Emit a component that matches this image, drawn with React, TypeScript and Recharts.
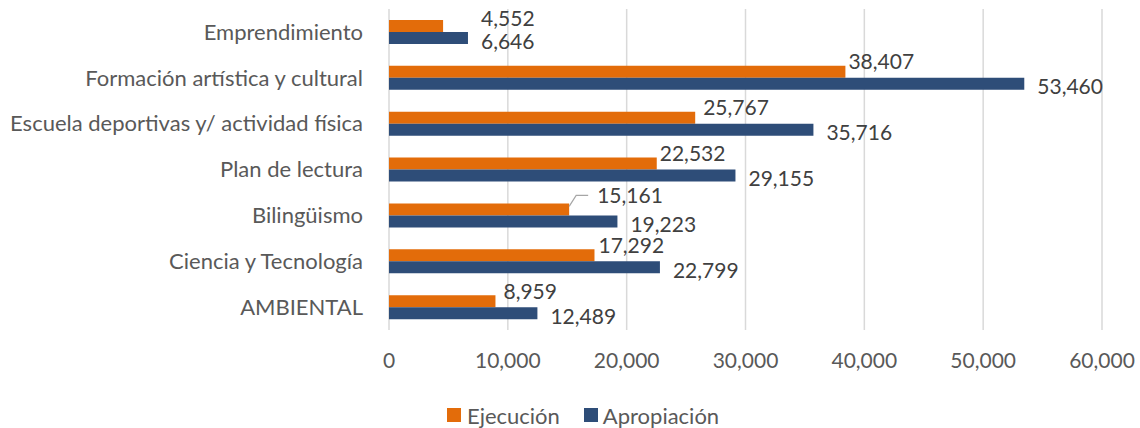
import React from "react";
import { BarChart, Bar, XAxis, YAxis, CartesianGrid, LabelList } from "recharts";

const categories = [
  "Emprendimiento",
  "Formación artística y cultural",
  "Escuela deportivas y/ actividad física",
  "Plan de lectura",
  "Bilingüismo",
  "Ciencia y Tecnología",
  "AMBIENTAL",
];
const ejecucion = [4552, 38407, 25767, 22532, 15161, 17292, 8959];
const apropiacion = [6646, 53460, 35716, 29155, 19223, 22799, 12489];
const xTicks = [0, 10000, 20000, 30000, 40000, 50000, 60000];
const seriesNames = ["Ejecución", "Apropiación"];

const data = categories.map((c, i) => ({ name: c, ejecucion: ejecucion[i], apropiacion: apropiacion[i] }));

const ORANGE = "#E36C0A";
const BLUE = "#2E4D78";
const FONT = "Lato, 'Open Sans', sans-serif";

// label placement tweaks (style, not data)
const orangeDx: Record<string, number> = {
  "Emprendimiento": 38,
  "Formación artística y cultural": 3,
  "Escuela deportivas y/ actividad física": 8,
  "Plan de lectura": 3,
  "Bilingüismo": 28,
  "Ciencia y Tecnología": 4,
  "AMBIENTAL": 8,
};
const orangeDy: Record<string, number> = {
  "Emprendimiento": -8,
  "Bilingüismo": -14,
};

const fmt = (v: number) => v.toLocaleString("en-US");

const OrangeLabel = (props: any) => {
  const { x, y, width, height, value, index } = props;
  const name = categories[index];
  const end = x + width;
  const dx = orangeDx[name] ?? 5;
  const dy = orangeDy[name] ?? -10;
  const cy = y + height / 2 + dy;
  return (
    <g>
      {name === "Bilingüismo" && (
        <polyline
          points={`${end},${y + 3} ${end + 7},${cy} ${end + 19},${cy}`}
          fill="none"
          stroke="#A6A6A6"
          strokeWidth={1.2}
        />
      )}
      <text x={end + dx} y={cy} dy="0.36em" fontFamily={FONT} fontSize={21} fill="#404040" textAnchor="start">
        {fmt(value)}
      </text>
    </g>
  );
};

const BlueLabel = (props: any) => {
  const { x, y, width, height, value } = props;
  const end = x + width;
  const cy = y + height / 2 + 3;
  return (
    <text x={end + 13} y={cy} dy="0.36em" fontFamily={FONT} fontSize={21} fill="#404040" textAnchor="start">
      {fmt(value)}
    </text>
  );
};

const LegendBox = () => (
  <div
    style={{
      position: "absolute",
      left: 447,
      top: 402,
      height: 26,
      display: "flex",
      alignItems: "center",
      fontFamily: FONT,
      fontSize: 22,
      color: "#595959",
      whiteSpace: "nowrap",
    }}
  >
    <span style={{ display: "inline-block", width: 14, height: 14, background: ORANGE, marginRight: 6 }} />
    <span style={{ marginRight: 24 }}>{seriesNames[0]}</span>
    <span style={{ display: "inline-block", width: 14, height: 14, background: BLUE, marginRight: 5 }} />
    <span>{seriesNames[1]}</span>
  </div>
);

export default function App() {
  return (
    <div style={{ position: "absolute", left: 0, top: 0, width: 1140, height: 428, background: "#fff" }}>
      <BarChart
        width={1140}
        height={428}
        data={data}
        layout="vertical"
        margin={{ top: 9, right: 38, left: 0, bottom: 58 }}
        barGap={0}
        barSize={12}
      >
        <CartesianGrid horizontal={false} vertical={true} stroke="#D9D9D9" strokeWidth={1.5} />
        <XAxis
          type="number"
          domain={[0, 60000]}
          ticks={xTicks}
          tickFormatter={(v: number) => fmt(v)}
          axisLine={false}
          tickLine={false}
          tickSize={0}
          tickMargin={23}
          height={40}
          interval={0}
          tick={{ fontFamily: FONT, fontSize: 21, fill: "#595959" }}
        />
        <YAxis
          type="category"
          dataKey="name"
          width={389}
          axisLine={false}
          tickLine={false}
          tickSize={0}
          tickMargin={26}
          interval={0}
          tick={{ fontFamily: FONT, fontSize: 22, fill: "#595959" }}
        />
        <Bar dataKey="ejecucion" name={seriesNames[0]} fill={ORANGE} isAnimationActive={false}>
          <LabelList dataKey="ejecucion" content={<OrangeLabel />} />
        </Bar>
        <Bar dataKey="apropiacion" name={seriesNames[1]} fill={BLUE} isAnimationActive={false}>
          <LabelList dataKey="apropiacion" content={<BlueLabel />} />
        </Bar>
      </BarChart>
      <LegendBox />
    </div>
  );
}
